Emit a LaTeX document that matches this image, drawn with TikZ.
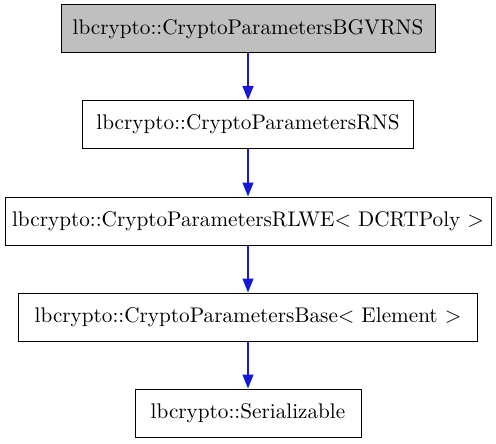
\documentclass[tikz,border=0pt]{standalone}
\usetikzlibrary{arrows.meta}
\definecolor{edgeblue}{RGB}{24,24,204}
\definecolor{boxgray}{RGB}{191,191,191}
\begin{document}
\begin{tikzpicture}[x=0.5pt,y=-0.5pt,
  cls/.style={draw=black,line width=0.5pt,inner sep=0pt,minimum height=24pt,font=\fontsize{10.6}{12.7}\selectfont},
  inh/.style={draw=edgeblue,line width=0.6pt,-{Triangle[length=7pt,width=5.5pt]},color=edgeblue}]
\useasboundingbox (0,0) rectangle (496,443);
\node[cls,fill=boxgray,minimum width=187pt] (a) at (248,29) {lbcrypto::CryptoParametersBGVRNS};
\node[cls,minimum width=165.5pt] (b) at (248,124.5) {lbcrypto::CryptoParametersRNS};
\node[cls,minimum width=243pt] (c) at (248,221) {lbcrypto::CryptoParametersRLWE< DCRTPoly >};
\node[cls,minimum width=229.5pt] (d) at (248,317) {lbcrypto::CryptoParametersBase< Element >};
\node[cls,minimum width=113pt] (e) at (248,413) {lbcrypto::Serializable};
\draw[inh] (a.south) -- (b.north);
\draw[inh] (b.south) -- (c.north);
\draw[inh] (c.south) -- (d.north);
\draw[inh] (d.south) -- (e.north);
\end{tikzpicture}
\end{document}
